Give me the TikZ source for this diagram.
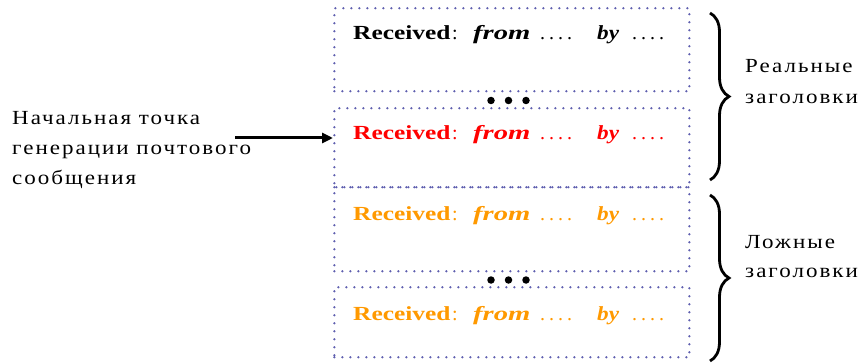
\documentclass[tikz,border=0pt]{standalone}
\usepackage{fontspec}
\setmainfont{Liberation Serif}
\newfontfamily\cyrfam[FakeStretch=1.15,LetterSpace=10]{Liberation Serif}
\usepackage{graphicx}
\usetikzlibrary{decorations.pathreplacing,arrows.meta}
\definecolor{boxblue}{RGB}{95,95,175}
\definecolor{hred}{RGB}{255,0,0}
\definecolor{horange}{RGB}{255,153,0}
\newcommand{\fourdots}{.\hspace{4pt}.\hspace{4pt}.\hspace{4pt}.}
\tikzset{
  hbox/.style={draw=boxblue, line width=2.5pt, dash pattern=on 0pt off 8pt, line cap=round,
    rectangle, anchor=north west, minimum width=355pt, inner sep=0pt},
  wtxt/.style={anchor=base west, inner sep=0pt, font=\fontsize{20}{24}\selectfont},
  ltxt/.style={anchor=base west, inner sep=0pt, font=\cyrfam\fontsize{20}{24}\selectfont},
  brc/.style={decorate, decoration={brace, amplitude=19pt}, line width=2.8pt},
  edot/.style={circle, fill=black, inner sep=0pt, minimum size=7.5pt},
}
\begin{document}
\begin{tikzpicture}[x=1pt,y=-1pt]
\useasboundingbox (0,0) rectangle (858,363);
% boxes
\node[hbox, minimum height=83pt] (b1) at (333,7) {};
\node[hbox, minimum height=79pt] (b2) at (333,107) {};
\node[hbox, minimum height=84pt] (b3) at (333,186) {};
\node[hbox, minimum height=70pt] (b4) at (333,286) {};
% ellipsis dots
\node[edot] (e1a) at (491,100.5) {};
\node[edot] (e1b) at (508.5,100.5) {};
\node[edot] (e1c) at (526,100.5) {};
\node[edot] (e2a) at (491,280) {};
\node[edot] (e2b) at (508.5,280) {};
\node[edot] (e2c) at (526,280) {};
% header texts
\foreach \n/\yb/\c in {1/40/black, 2/140/hred, 3/220/horange, 4/320/horange}{
  \node[wtxt, text=\c] (r\n) at (353,\yb) {\scalebox{1.27}[1]{\textbf{Received}}};
  \node[wtxt, text=\c] (c\n) at (452,\yb) {:};
  \node[wtxt, text=\c] (f\n) at (473,\yb) {\scalebox{1.43}[1]{\textbf{\textit{from}}}};
  \node[wtxt, text=\c] (d\n) at (540,\yb) {\fourdots};
  \node[wtxt, text=\c] (y\n) at (597,\yb) {\scalebox{1.16}[1]{\textbf{\textit{by}}}};
  \node[wtxt, text=\c] (g\n) at (632,\yb) {\fourdots};
}
% left label
\node[ltxt] (l1) at (12,125) {Начальная точка};
\node[ltxt] (l2) at (12,155) {генерации почтового};
\node[ltxt] (l3) at (12,185) {сообщения};
\coordinate (astart) at (235,138);
\draw[line width=3pt, -{Triangle[length=11pt,width=10pt]}] (astart) -- (astart -| b2.west);
% braces
\draw[brc] (710,13) -- (710,180);
\draw[brc] (710,195) -- (710,361);
\node[ltxt] (rl1) at (745,73) {Реальные};
\node[ltxt] (rl2) at (745,104) {заголовки};
\node[ltxt] (fl1) at (745,248) {Ложные};
\node[ltxt] (fl2) at (745,277) {заголовки};
\end{tikzpicture}
\end{document}
